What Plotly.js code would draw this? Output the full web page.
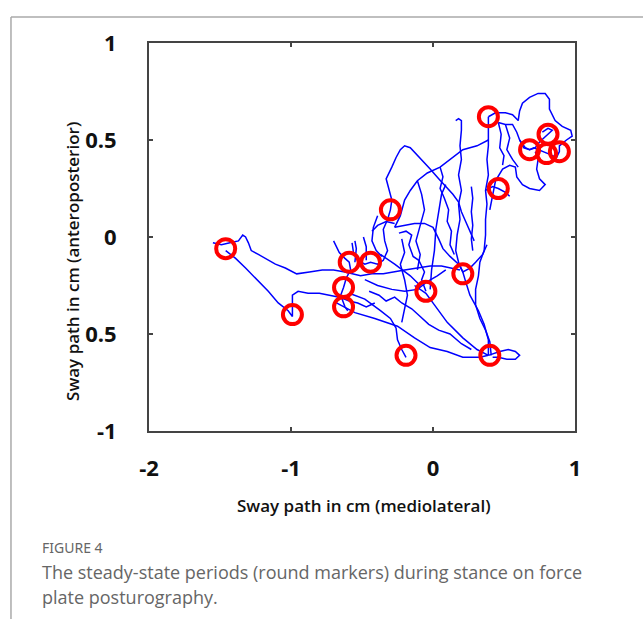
<!DOCTYPE html>
<html><head><meta charset="utf-8">
<script src="https://cdn.plot.ly/plotly-3.0.1.min.js"></script>
<style>html,body{margin:0;padding:0;background:#fff;overflow:hidden}#chart{width:643px;height:619px}</style>
</head><body><div id="chart"></div>
<script>
// Axis ticks
const xTickVals = [-2, -1, 0, 1];
const xTickText = ['-2', '-1', '0', '1'];
const yTickVals = [-1, -0.5, 0, 0.5, 1];
const yTickText = ['-1', '0.5', '0', '0.5', '1'];

// Steady-state periods (round markers), cm
const steadyX = [-1.46, -0.99, -0.59, -0.44, -0.63, -0.63, -0.19, -0.05, 0.21, -0.30, 0.46, 0.39, 0.68, 0.81, 0.80, 0.89, 0.40];
const steadyY = [-0.06, -0.40, -0.13, -0.13, -0.26, -0.36, -0.61, -0.28, -0.19, 0.14, 0.25, 0.62, 0.45, 0.53, 0.43, 0.44, -0.61];

// Sway path strokes [mediolateral cm, anteroposterior cm]
const stroke1 = [[-1.55,-0.03],[-1.49,-0.04],[-1.43,-0.03],[-1.37,-0.02],[-1.34,0.01],[-1.32,0.0],[-1.30,-0.03],[-1.28,-0.07],[-1.23,-0.09],[-1.18,-0.11],[-1.11,-0.14],[-1.04,-0.16],[-0.96,-0.19],[-0.87,-0.18],[-0.78,-0.17],[-0.70,-0.17],[-0.62,-0.18],[-0.51,-0.20],[-0.43,-0.19],[-0.35,-0.19],[-0.28,-0.18],[-0.20,-0.17],[-0.11,-0.16],[-0.02,-0.15],[0.06,-0.15],[0.13,-0.16],[0.19,-0.17]];
const stroke2 = [[-1.46,-0.07],[-1.39,-0.11],[-1.32,-0.16],[-1.24,-0.22],[-1.16,-0.28],[-1.09,-0.34],[-1.02,-0.38],[-0.99,-0.41],[-0.99,-0.39],[-0.99,-0.35],[-0.99,-0.30],[-0.95,-0.28],[-0.88,-0.29],[-0.80,-0.29],[-0.73,-0.30],[-0.66,-0.31],[-0.59,-0.33],[-0.53,-0.34],[-0.47,-0.36],[-0.41,-0.34]];
const stroke3 = [[-0.70,-0.02],[-0.68,-0.05],[-0.66,-0.08],[-0.62,-0.11],[-0.59,-0.13],[-0.58,-0.17],[-0.61,-0.21],[-0.63,-0.26],[-0.65,-0.30],[-0.63,-0.34],[-0.62,-0.36],[-0.60,-0.38]];
const stroke4 = [[-0.57,-0.03],[-0.56,-0.08],[-0.53,-0.12],[-0.48,-0.14],[-0.44,-0.13],[-0.39,-0.14],[-0.35,-0.12],[-0.32,-0.07],[-0.34,-0.02],[-0.35,0.04],[-0.32,0.09],[-0.30,0.14],[-0.29,0.19],[-0.31,0.24],[-0.33,0.30],[-0.29,0.36],[-0.26,0.41],[-0.23,0.45],[-0.20,0.47],[-0.16,0.46],[-0.12,0.43],[-0.07,0.39],[-0.02,0.35],[0.04,0.30],[0.09,0.26],[0.14,0.22],[0.18,0.18],[0.20,0.13],[0.23,0.08],[0.26,0.03],[0.29,-0.02]];
const stroke5 = [[0.16,0.60],[0.18,0.61],[0.20,0.60],[0.20,0.55],[0.19,0.47],[0.20,0.40],[0.18,0.32],[0.20,0.24],[0.18,0.17],[0.19,0.09],[0.17,0.01],[0.16,-0.07],[0.18,-0.13],[0.21,-0.18],[0.23,-0.23],[0.26,-0.30],[0.32,-0.38],[0.36,-0.45],[0.39,-0.53],[0.39,-0.61]];
const stroke6 = [[0.39,0.62],[0.39,0.55],[0.39,0.47],[0.38,0.40],[0.39,0.32],[0.37,0.24],[0.38,0.17],[0.37,0.09],[0.37,0.01],[0.36,-0.07],[0.33,-0.13],[0.32,-0.20],[0.30,-0.27],[0.30,-0.35],[0.33,-0.42],[0.37,-0.48],[0.40,-0.54],[0.41,-0.61]];
const stroke7 = [[0.39,0.62],[0.44,0.64],[0.51,0.64],[0.56,0.63],[0.60,0.60],[0.61,0.65],[0.63,0.69],[0.68,0.72],[0.74,0.74],[0.79,0.74],[0.82,0.71],[0.82,0.66],[0.86,0.60],[0.91,0.57],[0.97,0.55],[0.98,0.52],[0.94,0.50],[0.89,0.47],[0.89,0.44],[0.87,0.41],[0.81,0.43],[0.75,0.45],[0.71,0.46],[0.68,0.45],[0.64,0.46],[0.61,0.50],[0.59,0.54],[0.56,0.58],[0.51,0.58],[0.46,0.59]];
const stroke8 = [[0.72,0.44],[0.74,0.40],[0.73,0.35],[0.75,0.30],[0.79,0.27],[0.75,0.24],[0.68,0.25],[0.63,0.27],[0.59,0.31],[0.58,0.36],[0.54,0.37],[0.49,0.35],[0.44,0.29],[0.42,0.22],[0.40,0.14]];
const stroke9 = [[0.39,0.50],[0.31,0.47],[0.21,0.45],[0.14,0.41],[0.05,0.36],[-0.04,0.33],[-0.11,0.29],[-0.16,0.24],[-0.20,0.19],[-0.23,0.11],[-0.27,0.05]];
const stroke10 = [[-0.27,0.05],[-0.20,0.06],[-0.13,0.07],[-0.06,0.07],[0.00,0.05],[0.04,-0.01],[0.07,-0.06],[0.12,-0.10],[0.18,-0.14],[0.21,-0.18],[0.26,-0.16],[0.30,-0.13],[0.35,-0.09],[0.38,-0.04]];
const stroke11 = [[-0.68,-0.34],[-0.55,-0.39],[-0.41,-0.42],[-0.25,-0.46],[-0.13,-0.52],[-0.02,-0.57],[0.10,-0.59],[0.21,-0.62],[0.33,-0.62],[0.39,-0.61]];
const stroke12 = [[0.39,-0.61],[0.47,-0.59],[0.53,-0.58],[0.58,-0.59],[0.61,-0.61],[0.58,-0.63],[0.52,-0.63],[0.46,-0.62],[0.42,-0.62]];
const stroke13 = [[-0.59,-0.29],[-0.48,-0.32],[-0.37,-0.38],[-0.30,-0.42],[-0.26,-0.47],[-0.25,-0.53],[-0.22,-0.58],[-0.19,-0.62]];
const stroke14 = [[-0.13,-0.25],[-0.05,-0.29],[0.01,-0.35],[0.10,-0.44],[0.21,-0.52],[0.31,-0.58],[0.39,-0.61]];
const stroke15 = [[-0.48,-0.22],[-0.39,-0.25],[-0.29,-0.27],[-0.20,-0.28],[-0.11,-0.27],[-0.04,-0.23],[0.03,-0.20],[0.09,-0.17]];
const stroke16 = [[-0.22,-0.01],[-0.20,-0.08],[-0.23,-0.14],[-0.20,-0.22],[-0.18,-0.30],[-0.20,-0.38],[-0.22,-0.44]];
const stroke17 = [[-0.37,-0.09],[-0.27,-0.14],[-0.16,-0.20],[-0.09,-0.25]];
const stroke18 = [[-0.02,-0.27],[-0.01,-0.17],[0.01,-0.07],[0.02,0.04],[0.04,0.13],[0.06,0.22],[0.09,0.27]];
const stroke19 = [[0.27,0.26],[0.28,0.20],[0.27,0.13],[0.28,0.06],[0.27,-0.01],[0.28,-0.07]];
const stroke20 = [[-0.43,0.03],[-0.39,0.06],[-0.33,0.08],[-0.27,0.07]];
const stroke21 = [[-0.11,-0.17],[-0.09,-0.09],[-0.12,-0.02],[-0.09,0.06],[-0.06,0.14],[-0.08,0.22],[-0.11,0.29]];
const stroke22 = [[0.51,0.58],[0.54,0.51],[0.52,0.45],[0.56,0.40],[0.60,0.36]];
const stroke23 = [[0.37,0.24],[0.42,0.26],[0.46,0.25],[0.51,0.23],[0.54,0.21]];
const stroke24 = [[0.61,0.50],[0.65,0.46],[0.68,0.45],[0.72,0.46],[0.75,0.49],[0.81,0.53],[0.84,0.55],[0.81,0.56],[0.77,0.54]];
const stroke25 = [[-0.39,0.11],[-0.42,0.05],[-0.43,-0.02],[-0.40,-0.07],[-0.36,-0.10]];
const stroke26 = [[-0.05,-0.28],[-0.08,-0.22],[-0.06,-0.18],[-0.10,-0.12],[-0.14,-0.10],[-0.17,-0.04],[-0.15,0.01],[-0.19,0.03],[-0.24,0.02]];
const stroke27 = [[-0.45,-0.28],[-0.38,-0.30],[-0.33,-0.33],[-0.27,-0.31],[-0.22,-0.34],[-0.15,-0.37],[-0.09,-0.41],[-0.03,-0.45],[0.04,-0.48],[0.12,-0.50],[0.20,-0.55],[0.27,-0.58]];
const stroke28 = [[0.05,0.36],[0.07,0.31],[0.05,0.25],[0.08,0.20],[0.11,0.14],[0.10,0.08],[0.13,0.03],[0.12,-0.04],[0.15,-0.09]];
const stroke29 = [[0.46,0.59],[0.48,0.53],[0.47,0.46],[0.50,0.42],[0.49,0.37]];
const stroke30 = [[-0.55,-0.13],[-0.54,-0.06],[-0.55,-0.02]];
const stroke31 = [[-0.47,-0.12],[-0.47,-0.05],[-0.49,0.0]];

const strokes = [stroke1,stroke2,stroke3,stroke4,stroke5,stroke6,stroke7,stroke8,stroke9,stroke10,stroke11,stroke12,stroke13,stroke14,stroke15,stroke16,stroke17,stroke18,stroke19,stroke20,stroke21,stroke22,stroke23,stroke24,stroke25,stroke26,stroke27,stroke28,stroke29,stroke30,stroke31];

const pathX = [], pathY = [];
strokes.forEach(s => { s.forEach(p => { pathX.push(p[0]); pathY.push(p[1]); }); pathX.push(null); pathY.push(null); });

const tickFont = {family: 'Open Sans, sans-serif', size: 22, color: '#111', weight: 700};

const traces = [
  {x: pathX, y: pathY, type: 'scatter', mode: 'lines', line: {color: '#0000ff', width: 1.5}, connectgaps: false, hoverinfo: 'skip'},
  {x: steadyX, y: steadyY, type: 'scatter', mode: 'markers', marker: {symbol: 'circle-open', size: 19, color: '#ff0000', line: {width: 4, color: '#ff0000'}}, hoverinfo: 'skip'}
];

const axisCommon = {
  ticks: 'inside', ticklen: 4, tickwidth: 1.5, tickcolor: '#444',
  showline: true, linecolor: '#444', linewidth: 2, mirror: 'ticks',
  showgrid: false, zeroline: false, tickfont: tickFont, fixedrange: true
};

const layout = {
  width: 643, height: 619,
  margin: {l: 149, r: 68, t: 43, b: 188},
  paper_bgcolor: '#fff', plot_bgcolor: '#fff',
  showlegend: false,
  xaxis: Object.assign({}, axisCommon, {range: [-2, 1], tickmode: 'array', tickvals: xTickVals, ticktext: xTickText, ticklabelstandoff: 17}),
  yaxis: Object.assign({}, axisCommon, {range: [-1, 1], tickmode: 'array', tickvals: yTickVals, ticktext: yTickText, ticklabelstandoff: 26}),
  annotations: [
    {text: 'Sway path in cm (mediolateral)', xref: 'paper', yref: 'paper', x: 0.505, y: -0.193, xanchor: 'center', yanchor: 'middle', showarrow: false,
     font: {family: 'Open Sans, sans-serif', size: 17, color: '#111', weight: 600}},
    {text: 'Sway path in cm (anteroposterior)', xref: 'paper', yref: 'paper', x: -0.181, y: 0.438, xanchor: 'center', yanchor: 'middle', textangle: -90, showarrow: false,
     font: {family: 'Open Sans, sans-serif', size: 17, color: '#111', weight: 600}},
    {text: 'FIGURE 4', xref: 'paper', yref: 'paper', x: -0.256, y: -0.3015, xanchor: 'left', yanchor: 'middle', showarrow: false,
     font: {family: 'Noto Sans, sans-serif', size: 14, color: '#666'}},
    {text: 'The steady-state periods (round markers) during stance on force', xref: 'paper', yref: 'paper', x: -0.256, y: -0.363, xanchor: 'left', yanchor: 'middle', showarrow: false,
     font: {family: 'Open Sans, sans-serif', size: 18, color: '#666'}},
    {text: 'plate posturography.', xref: 'paper', yref: 'paper', x: -0.256, y: -0.428, xanchor: 'left', yanchor: 'middle', showarrow: false,
     font: {family: 'Open Sans, sans-serif', size: 18, color: '#666'}}
  ],
  shapes: [
    {type: 'line', xref: 'paper', yref: 'paper', x0: -0.324, x1: 1.2, y0: 1.067, y1: 1.067, line: {color: '#aaa', width: 1.5}},
    {type: 'line', xref: 'paper', yref: 'paper', x0: -0.324, x1: -0.324, y0: 1.067, y1: -0.5, line: {color: '#aaa', width: 1.5}}
  ]
};

Plotly.newPlot('chart', traces, layout, {displayModeBar: false, staticPlot: true});
</script></body></html>
